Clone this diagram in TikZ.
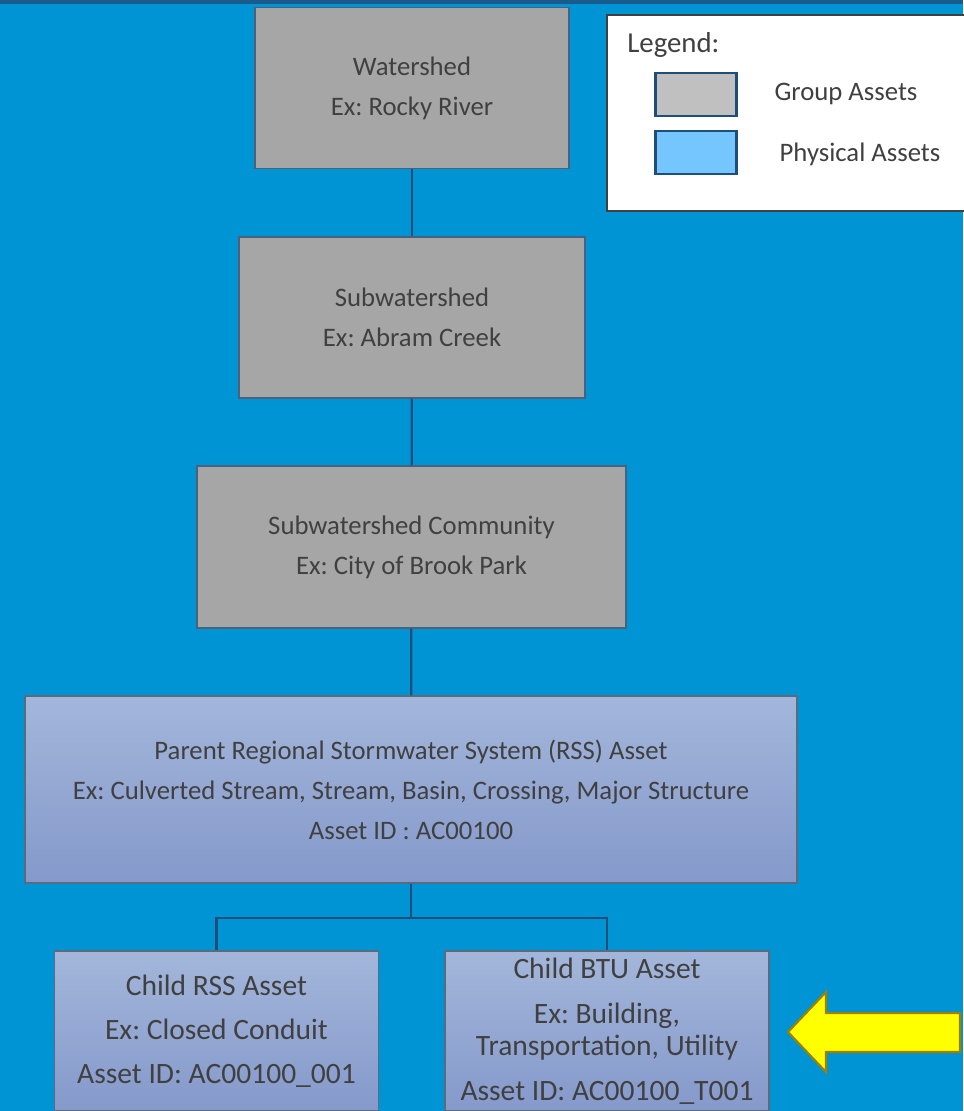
\documentclass[tikz,border=0pt]{standalone}
\usepackage{fontspec}
\setmainfont{Carlito}
\usepackage{tikz}
\usetikzlibrary{positioning}
\definecolor{sea}{HTML}{0094D4}
\definecolor{navy}{HTML}{1F4E79}
\definecolor{ink}{HTML}{404040}
\definecolor{groupgray}{HTML}{A6A6A6}
\definecolor{swatchgray}{HTML}{C0C0C0}
\definecolor{physlight}{HTML}{A3B6DA}
\definecolor{physdark}{HTML}{8599CB}
\definecolor{swatchblue}{HTML}{75C6FF}
\definecolor{hintfill}{HTML}{FFFF00}
\definecolor{hintline}{HTML}{A08000}
\newcommand{\pxu}{0.025cm}
\frenchspacing

\begin{document}
\begin{tikzpicture}[x=0.025cm, y=-0.025cm, text=ink,
    font=\fontsize{19}{28.5}\selectfont,
    group/.style={draw=navy!60!gray, fill=groupgray, line width=1pt, align=center, inner sep=0pt},
    phys/.style={draw=navy!40!gray, top color=physlight, bottom color=physdark, line width=1pt, align=center, inner sep=0pt},
    swatch/.style={draw=navy, line width=1.5pt, minimum width=81*\pxu, minimum height=43*\pxu, inner sep=0pt},
    tie/.style={navy, line width=1.6pt}]
  \useasboundingbox (0,0) rectangle (963,1111);
  \fill[sea] (0,0) rectangle (963,1111);
  \fill[navy!80!sea] (0,0) rectangle (963,4);
  \node[group, minimum width=314*\pxu, minimum height=161*\pxu] (ws) at (412,88) {Watershed\\Ex: Rocky River};
  \node[group, minimum width=346*\pxu, minimum height=161*\pxu] (sub) at (412,317.5) {Subwatershed\\Ex: Abram Creek};
  \node[group, minimum width=429*\pxu, minimum height=162*\pxu] (com) at (411.5,547) {Subwatershed Community\\Ex: City of Brook Park};
  \node[phys, minimum width=772*\pxu, minimum height=187*\pxu] (rss) at (411,789.5) {Parent Regional Stormwater System (RSS) Asset\\Ex: Culverted Stream, Stream, Basin, Crossing, Major Structure\\Asset ID : AC00100};
  \node[phys, minimum width=324*\pxu, minimum height=160*\pxu, font=\fontsize{21}{31.3}\selectfont] (crss) at (216.5,1031) {Child RSS Asset\\Ex: Closed Conduit\\Asset ID: AC00100\_001};
  \node[phys, minimum width=324*\pxu, minimum height=160*\pxu, font=\fontsize{21}{22.8}\selectfont] (cbtu) at (607,1031) {Child BTU Asset\\[9.2pt]Ex: Building,\\Transportation, Utility\\[9.2pt]Asset ID: AC00100\_T001};
  \path (rss.south) ++(0,34) coordinate (fork);
  \draw[tie] (ws) -- (sub);
  \draw[tie] (sub) -- (com);
  \draw[tie] (com) -- (rss);
  \draw[tie] (rss) -- (fork);
  \draw[tie] (crss.north) |- (fork) -| (cbtu.north);
  \fill[hintfill, draw=hintline, line width=1.5pt] (960,1013) -- (826,1013) -- (826,992) -- (788,1032) -- (826,1072) -- (826,1052) -- (960,1052) -- cycle;
  \node[draw=ink, fill=white, line width=1.5pt, minimum width=360*\pxu, minimum height=196*\pxu] (legend) at (787,113) {};
  \node[anchor=west, inner sep=0pt, font=\fontsize{20.5}{24}\selectfont] (legtitle) at (627,45) {Legend:};
  \node[swatch, fill=swatchgray] (gsw) at (696,94.5) {};
  \node[swatch, fill=swatchblue] (psw) at (696,152.5) {};
  \node[inner sep=0pt] (gtext) at (846,94) {Group Assets};
  \node[inner sep=0pt] (ptext) at (860,154) {Physical Assets};
\end{tikzpicture}
\end{document}
